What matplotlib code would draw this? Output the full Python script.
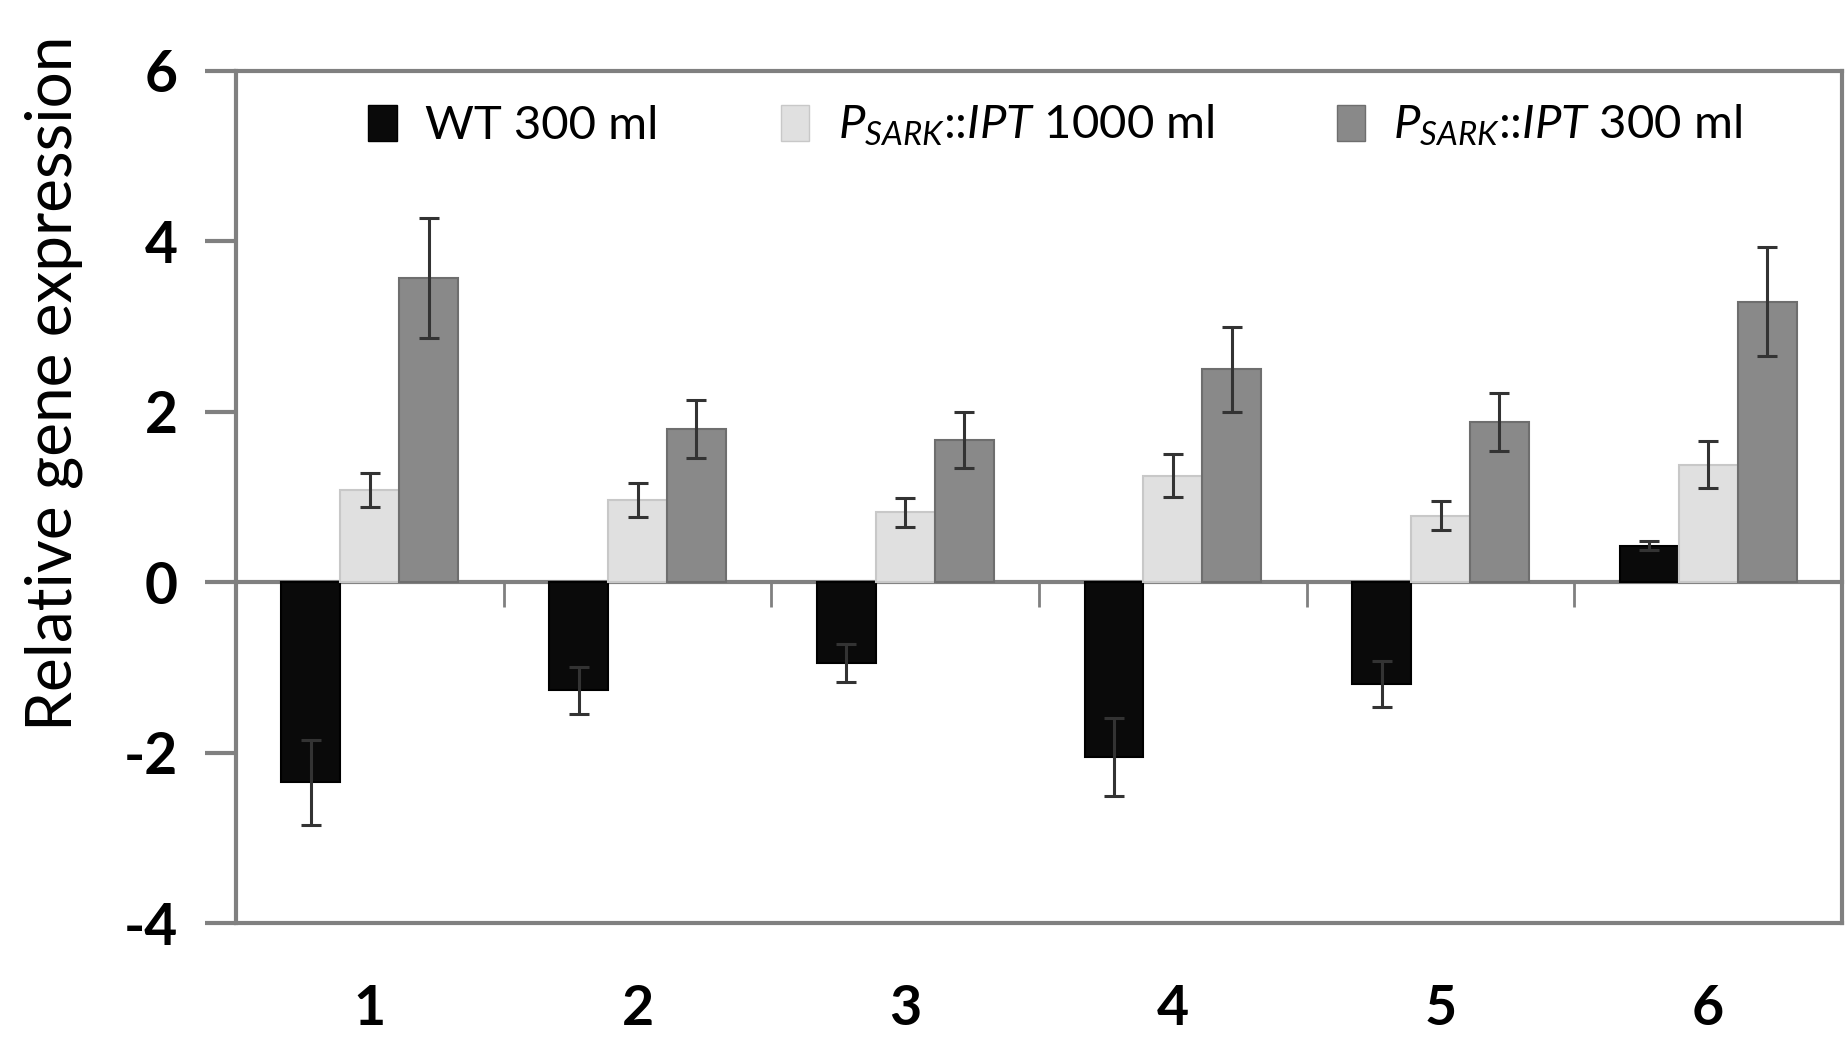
import matplotlib
matplotlib.use("Agg")
import matplotlib.pyplot as plt
import numpy as np
from matplotlib.patches import Patch

plt.rcParams['font.family'] = ['Lato', 'DejaVu Sans']
plt.rcParams['mathtext.fontset'] = 'custom'
plt.rcParams['mathtext.rm'] = 'Lato'
plt.rcParams['mathtext.it'] = 'Lato:italic'
plt.rcParams['mathtext.bf'] = 'Lato:bold'

categories = ["1", "2", "3", "4", "5", "6"]
series_names = ["WT 300 ml",
                r"$P_{SARK}$::$IPT$ 1000 ml",
                r"$P_{SARK}$::$IPT$ 300 ml"]
wt_300 = [-2.35, -1.27, -0.95, -2.05, -1.20, 0.43]
wt_300_err = [0.50, 0.28, 0.22, 0.46, 0.27, 0.05]
ipt_1000 = [1.08, 0.96, 0.82, 1.25, 0.78, 1.38]
ipt_1000_err = [0.20, 0.20, 0.17, 0.25, 0.17, 0.28]
ipt_300 = [3.57, 1.80, 1.67, 2.50, 1.88, 3.29]
ipt_300_err = [0.70, 0.34, 0.33, 0.50, 0.34, 0.64]
yticks = [-4, -2, 0, 2, 4, 6]

colors = ["#0a0a0a", "#e0e0e0", "#898989"]
edges = ["#000000", "#c8c8c8", "#6e6e6e"]

fig = plt.figure(figsize=(18.48, 10.42), dpi=100)
ax = fig.add_axes([0.1277, 0.1142, 0.8691, 0.8177])

x = np.arange(1, len(categories) + 1)
w = 0.22
data = [(wt_300, wt_300_err), (ipt_1000, ipt_1000_err), (ipt_300, ipt_300_err)]
for i, (vals, errs) in enumerate(data):
    ax.bar(x + (i - 1) * w, vals, width=w, color=colors[i], edgecolor=edges[i],
           linewidth=1.5, zorder=2,
           yerr=errs, error_kw=dict(ecolor="#333333", elinewidth=2.2,
                                    capsize=7, capthick=2.2, zorder=3))

ax.set_xlim(0.5, len(categories) + 0.5)
ax.set_ylim(-4, 6)
ax.set_yticks(yticks)
ax.set_yticklabels([str(t) for t in yticks], fontsize=41, fontweight='bold')
ax.tick_params(axis='y', length=22, width=3, color="#808080", pad=20)
ax.set_xticks(x)
ax.set_xticklabels(categories, fontsize=40, fontweight='bold')
ax.tick_params(axis='x', length=0, pad=44)

for s in ax.spines.values():
    s.set_color("#808080")
    s.set_linewidth(3)

# horizontal axis crossing at zero with boundary ticks
sec = ax.secondary_xaxis(0.4)
sec.set_xticks(x[:-1] + 0.5)
sec.set_xticklabels([])
sec.tick_params(axis='x', length=18, width=2, color="#808080", direction='out')
sec.spines['bottom'].set_color("#808080")
sec.spines['bottom'].set_linewidth(3)

fig.text(0.029, 0.632, "Relative gene expression", rotation=90,
         fontsize=46, ha='center', va='center')

handles = [Patch(facecolor=colors[i], edgecolor=edges[i]) for i in range(3)]
ax.legend(handles, series_names, loc='upper center', ncol=3, frameon=False,
          fontsize=34, handlelength=0.6, handleheight=0.8, handletextpad=0.6,
          columnspacing=2.6, bbox_to_anchor=(0.51, 1.012))

fig.savefig("out.png", dpi=100)
